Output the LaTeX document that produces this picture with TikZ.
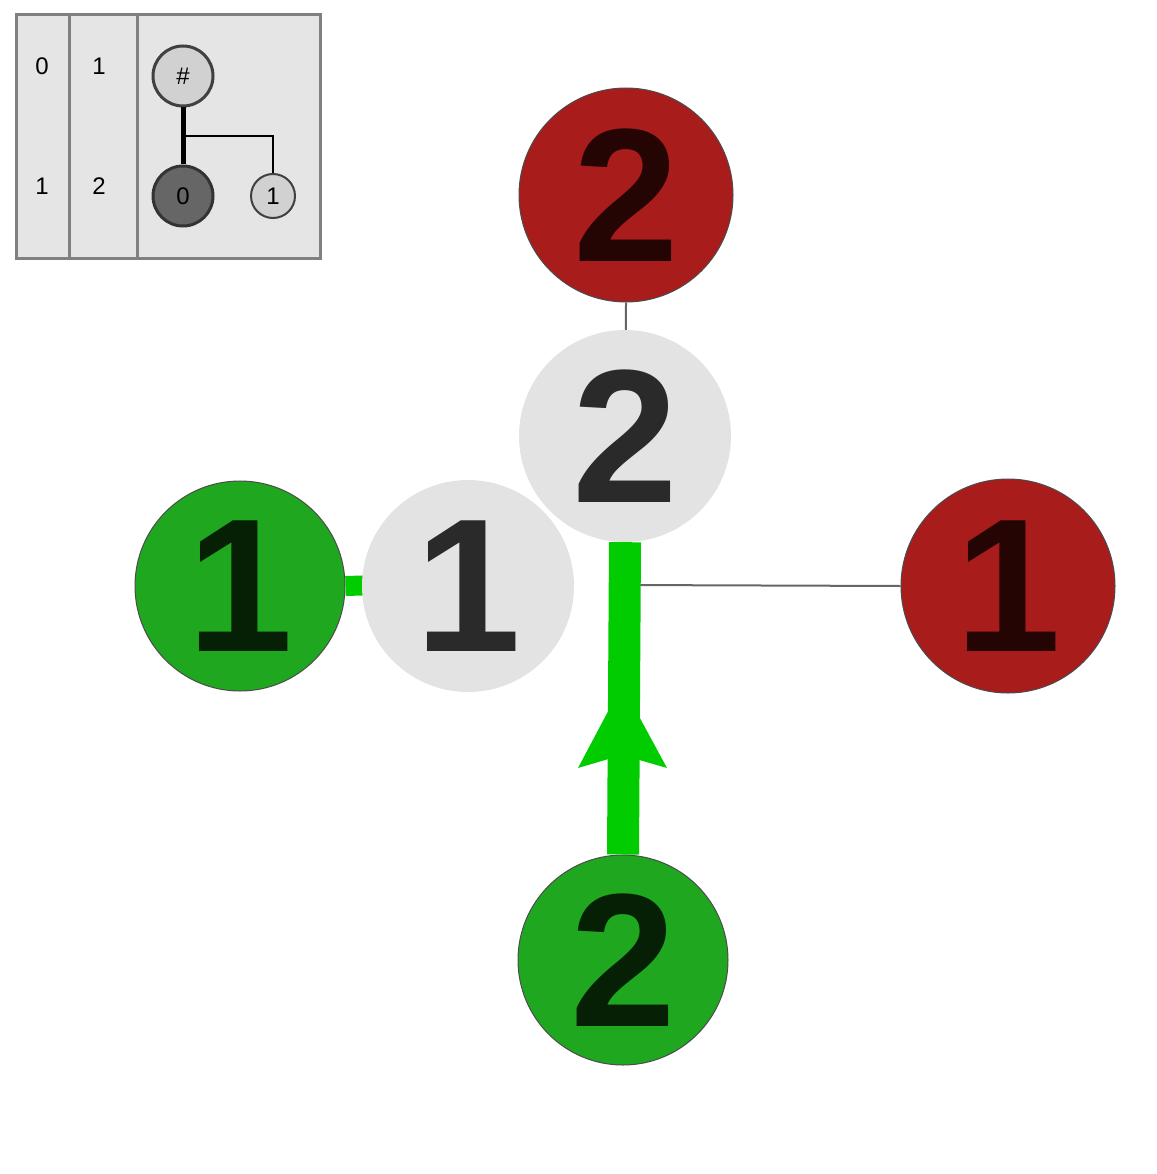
\documentclass[tikz,border=0pt]{standalone}
\usepackage{fontspec}
\setmainfont{Liberation Sans}
\definecolor{cred}{RGB}{168,28,28}
\definecolor{cgreen}{RGB}{31,168,31}
\definecolor{cgrey}{RGB}{227,227,227}
\definecolor{tred}{RGB}{37,4,4}
\definecolor{tgreen}{RGB}{6,32,6}
\definecolor{tgrey}{RGB}{42,42,42}
\definecolor{lgreen}{RGB}{0,204,0}
\begin{document}
\begin{tikzpicture}[x=1pt,y=-1pt,
  big/.style={circle,minimum size=#1,inner sep=0pt,font=\fontsize{190}{190}\selectfont\bfseries},
  redc/.style={big=214pt,fill=cred,draw=black!70,line width=1pt,text=tred},
  greenc/.style={big=210pt,fill=cgreen,draw=black!70,line width=1pt,text=tgreen},
  greyc/.style={big=212pt,fill=cgrey,text=tgrey},
  thinl/.style={draw=black!60,line width=2pt},
  gl/.style={draw=lgreen,line width=32pt},
  small/.style={font=\fontsize{24}{24}\selectfont}]
\useasboundingbox (0,0) rectangle (1156,1174);
% inset
\draw[fill=black!10,draw=black!50,line width=3pt] (16,15) rectangle (320,258);
\draw[draw=black!50,line width=3pt] (69,15) -- (69,258) (137,15) -- (137,258);
\node[small] (a) at (42,66) {0};
\node[small] (b) at (99,66) {1};
\node[small] (c) at (42,186) {1};
\node[small] (d) at (99,186) {2};
\node[circle,minimum size=60pt,inner sep=0pt,fill=black!18,draw=black!75,line width=3pt,small] (h) at (183,76) {\#};
\node[circle,minimum size=60pt,inner sep=0pt,fill=black!60,draw=black!80,line width=3pt,small] (z) at (183,196) {0};
\node[circle,minimum size=44pt,inner sep=0pt,fill=black!18,draw=black!75,line width=2pt,small] (o) at (273,196) {1};
\draw[line width=5pt] (h.south) -- (z.north);
\coordinate (j) at (183,136);
\draw[line width=2pt] (j) -| (o.north);
% main lines
\coordinate (ctr) at (625,585);
\node[redc] (r2) at (626,195) {2};
\node[redc] (r1) at (1008,586) {1};
\draw[thinl] (r2.south) -- (ctr);
\draw[thinl] (ctr) -- (r1.west);
\node[greenc] (g1) at (240,586) {1};
\node[greenc] (g2) at (623,960) {2};
\draw[draw=lgreen,line width=20pt] (g1.east) -- (380,585);
\node[greyc] (w2) at (625,436) {2};
\node[greyc] (w1) at (468,586) {1};
\draw[gl] (w2.south) -- (g2.north);
\fill[lgreen] (622,685) -- (667,768) -- (622,755) -- (578,768) -- cycle;
\end{tikzpicture}
\end{document}
